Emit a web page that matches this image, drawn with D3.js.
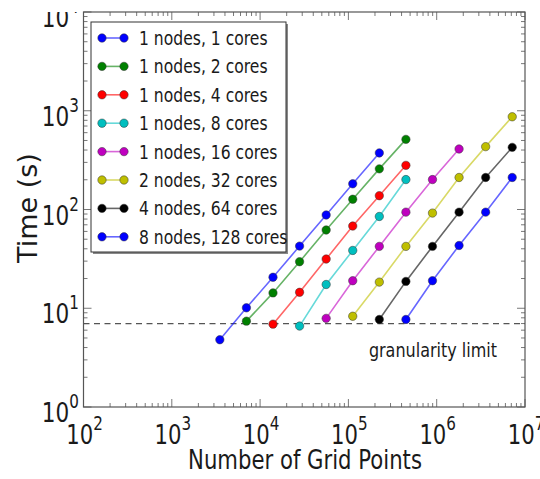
<!DOCTYPE html>
<html>
<head>
<meta charset="utf-8">
<script src="https://cdn.jsdelivr.net/npm/d3@7"></script>
<style>
  body { margin: 0; background: #fff; }
  text { font-family: "DejaVu Sans", sans-serif; fill: #1a1a1a; }
</style>
</head>
<body>
<svg width="540" height="479"></svg>
<script>
    // series labels and colours (matplotlib classic)
    var seriesNames = ["1 nodes, 1 cores", "1 nodes, 2 cores", "1 nodes, 4 cores", "1 nodes, 8 cores",
                       "1 nodes, 16 cores", "2 nodes, 32 cores", "4 nodes, 64 cores", "8 nodes, 128 cores"];
    var seriesColors = ["#0000ff", "#008000", "#ff0000", "#00bfbf", "#bf00bf", "#bfbf00", "#000000", "#0000ff"];

    // grid point counts per series
    var gridPoints = [
        [3500, 7000, 14000, 28000, 56000, 112000, 224000],
        [7000, 14000, 28000, 56000, 112000, 224000, 448000],
        [14000, 28000, 56000, 112000, 224000, 448000],
        [28000, 56000, 112000, 224000, 448000],
        [56000, 112000, 224000, 448000, 896000, 1792000],
        [112000, 224000, 448000, 896000, 1792000, 3584000, 7168000],
        [224000, 448000, 896000, 1792000, 3584000, 7168000],
        [448000, 896000, 1792000, 3584000, 7168000]
    ];
    // run times (s)
    var times = [
        [4.8, 10.1, 20.6, 42.6, 88, 182, 374],
        [7.4, 14.3, 29.6, 62, 127, 258, 513],
        [6.9, 14.5, 31.5, 68, 138, 280],
        [6.6, 17.4, 38.5, 85, 201],
        [7.9, 19.0, 42.3, 94, 201, 410],
        [8.3, 18.4, 42.3, 92, 211, 433, 869],
        [7.7, 18.7, 42.3, 94, 211, 426],
        [7.7, 19.0, 43.2, 94, 211]
    ];
    var granularityLimit = 7.0;
    var xTickExps = [2, 3, 4, 5, 6, 7];
    var yTickExps = [0, 1, 2, 3, 4];

    var svg = d3.select("svg");
    var plotL = 83.5, plotR = 525, plotT = 12, plotB = 407;
    var squeeze = 0.8;   // the figure is squashed horizontally

    var x = d3.scaleLog().domain([1e2, 1e7]).range([plotL, plotR]);
    var y = d3.scaleLog().domain([1e0, 1e4]).range([plotB, plotT]);

    // horizontal text, narrowed like the reference
    function label(parent, px, py, size, anchor) {
        return parent.append("text")
            .attr("transform", "translate(" + px + "," + py + ") scale(" + squeeze + ",1)")
            .attr("text-anchor", anchor)
            .attr("font-size", size);
    }

    var defs = svg.append("defs");
    defs.append("clipPath").attr("id", "plot")
        .append("rect").attr("x", plotL).attr("y", plotT).attr("width", plotR - plotL).attr("height", plotB - plotT);
    defs.append("clipPath").attr("id", "page")
        .append("rect").attr("x", 0).attr("y", plotT).attr("width", 540).attr("height", 479);

    // granularity limit
    svg.append("line")
        .attr("x1", plotL).attr("x2", plotR)
        .attr("y1", y(granularityLimit)).attr("y2", y(granularityLimit))
        .attr("stroke", "#555").attr("stroke-width", 1.3).attr("stroke-dasharray", "6,4.5");
    label(svg, 497, 357, 20, "end").text("granularity limit");

    var line = d3.line().x(function (d) { return x(d[0]); }).y(function (d) { return y(d[1]); });

    var plot = svg.append("g").attr("clip-path", "url(#plot)");
    seriesNames.forEach(function (name, i) {
        var pts = gridPoints[i].map(function (g, j) { return [g, times[i][j]]; });
        plot.append("path")
            .attr("d", line(pts))
            .attr("fill", "none")
            .attr("stroke", seriesColors[i])
            .attr("stroke-opacity", 0.6)
            .attr("stroke-width", 1.6);
        plot.selectAll(null).data(pts).enter().append("circle")
            .attr("cx", function (d) { return x(d[0]); })
            .attr("cy", function (d) { return y(d[1]); })
            .attr("r", 4.2)
            .attr("fill", seriesColors[i])
            .attr("stroke", "#333").attr("stroke-width", 0.5);
    });

    // ticks (inside, all four sides)
    var ticks = svg.append("g").attr("stroke", "#555").attr("stroke-width", 0.8);
    function minorLog(lo, hi) {
        var out = [];
        for (var e = lo; e < hi; e++) {
            for (var m = 2; m < 10; m++) out.push(m * Math.pow(10, e));
        }
        return out;
    }
    xTickExps.forEach(function (e) {
        var px = x(Math.pow(10, e));
        ticks.append("line").attr("x1", px).attr("x2", px).attr("y1", plotB).attr("y2", plotB - 8);
        ticks.append("line").attr("x1", px).attr("x2", px).attr("y1", plotT).attr("y2", plotT + 8);
    });
    minorLog(2, 7).forEach(function (v) {
        var px = x(v);
        ticks.append("line").attr("x1", px).attr("x2", px).attr("y1", plotB).attr("y2", plotB - 4);
        ticks.append("line").attr("x1", px).attr("x2", px).attr("y1", plotT).attr("y2", plotT + 4);
    });
    yTickExps.forEach(function (e) {
        var py = y(Math.pow(10, e));
        ticks.append("line").attr("x1", plotL).attr("x2", plotL + 8).attr("y1", py).attr("y2", py);
        ticks.append("line").attr("x1", plotR).attr("x2", plotR - 8).attr("y1", py).attr("y2", py);
    });
    minorLog(0, 4).forEach(function (v) {
        var py = y(v);
        ticks.append("line").attr("x1", plotL).attr("x2", plotL + 4).attr("y1", py).attr("y2", py);
        ticks.append("line").attr("x1", plotR).attr("x2", plotR - 4).attr("y1", py).attr("y2", py);
    });

    // frame
    svg.append("rect")
        .attr("x", plotL).attr("y", plotT).attr("width", plotR - plotL).attr("height", plotB - plotT)
        .attr("fill", "none").attr("stroke", "#555").attr("stroke-width", 1.2);

    // tick labels
    function powLabel(sel, e) {
        sel.append("tspan").text("10");
        sel.append("tspan").attr("dy", -14).attr("font-size", 19).text(e);
    }
    var tickLabels = svg.append("g").attr("clip-path", "url(#page)");
    xTickExps.forEach(function (e) {
        powLabel(label(tickLabels, x(Math.pow(10, e)) + 1, 444, 26.5, "middle"), e);
    });
    yTickExps.forEach(function (e) {
        powLabel(label(tickLabels, 79, y(Math.pow(10, e)) + 15, 27, "end"), e);
    });

    // axis titles
    label(svg, 305, 469, 26.5, "middle").text("Number of Grid Points");
    svg.append("text")
        .attr("transform", "translate(37,208) rotate(-90)")
        .attr("text-anchor", "middle").attr("font-size", 27)
        .text("Time (s)");

    // legend
    var lg = svg.append("g");
    lg.append("rect").attr("x", 93).attr("y", 24).attr("width", 195).attr("height", 230).attr("fill", "#888");
    lg.append("rect").attr("x", 91).attr("y", 22).attr("width", 195).attr("height", 230)
        .attr("fill", "#fff").attr("stroke", "#333").attr("stroke-width", 1);
    seriesNames.forEach(function (name, i) {
        var cy = 38 + i * 28.4;
        lg.append("line").attr("x1", 102).attr("x2", 124).attr("y1", cy).attr("y2", cy)
            .attr("stroke", seriesColors[i]).attr("stroke-opacity", 0.6).attr("stroke-width", 1.6);
        [102, 124].forEach(function (cx) {
            lg.append("circle").attr("cx", cx).attr("cy", cy).attr("r", 4.2)
                .attr("fill", seriesColors[i]).attr("stroke", "#333").attr("stroke-width", 0.5);
        });
        label(lg, 139, cy + 7, 19.5, "start").text(name);
    });
</script>
</body>
</html>
